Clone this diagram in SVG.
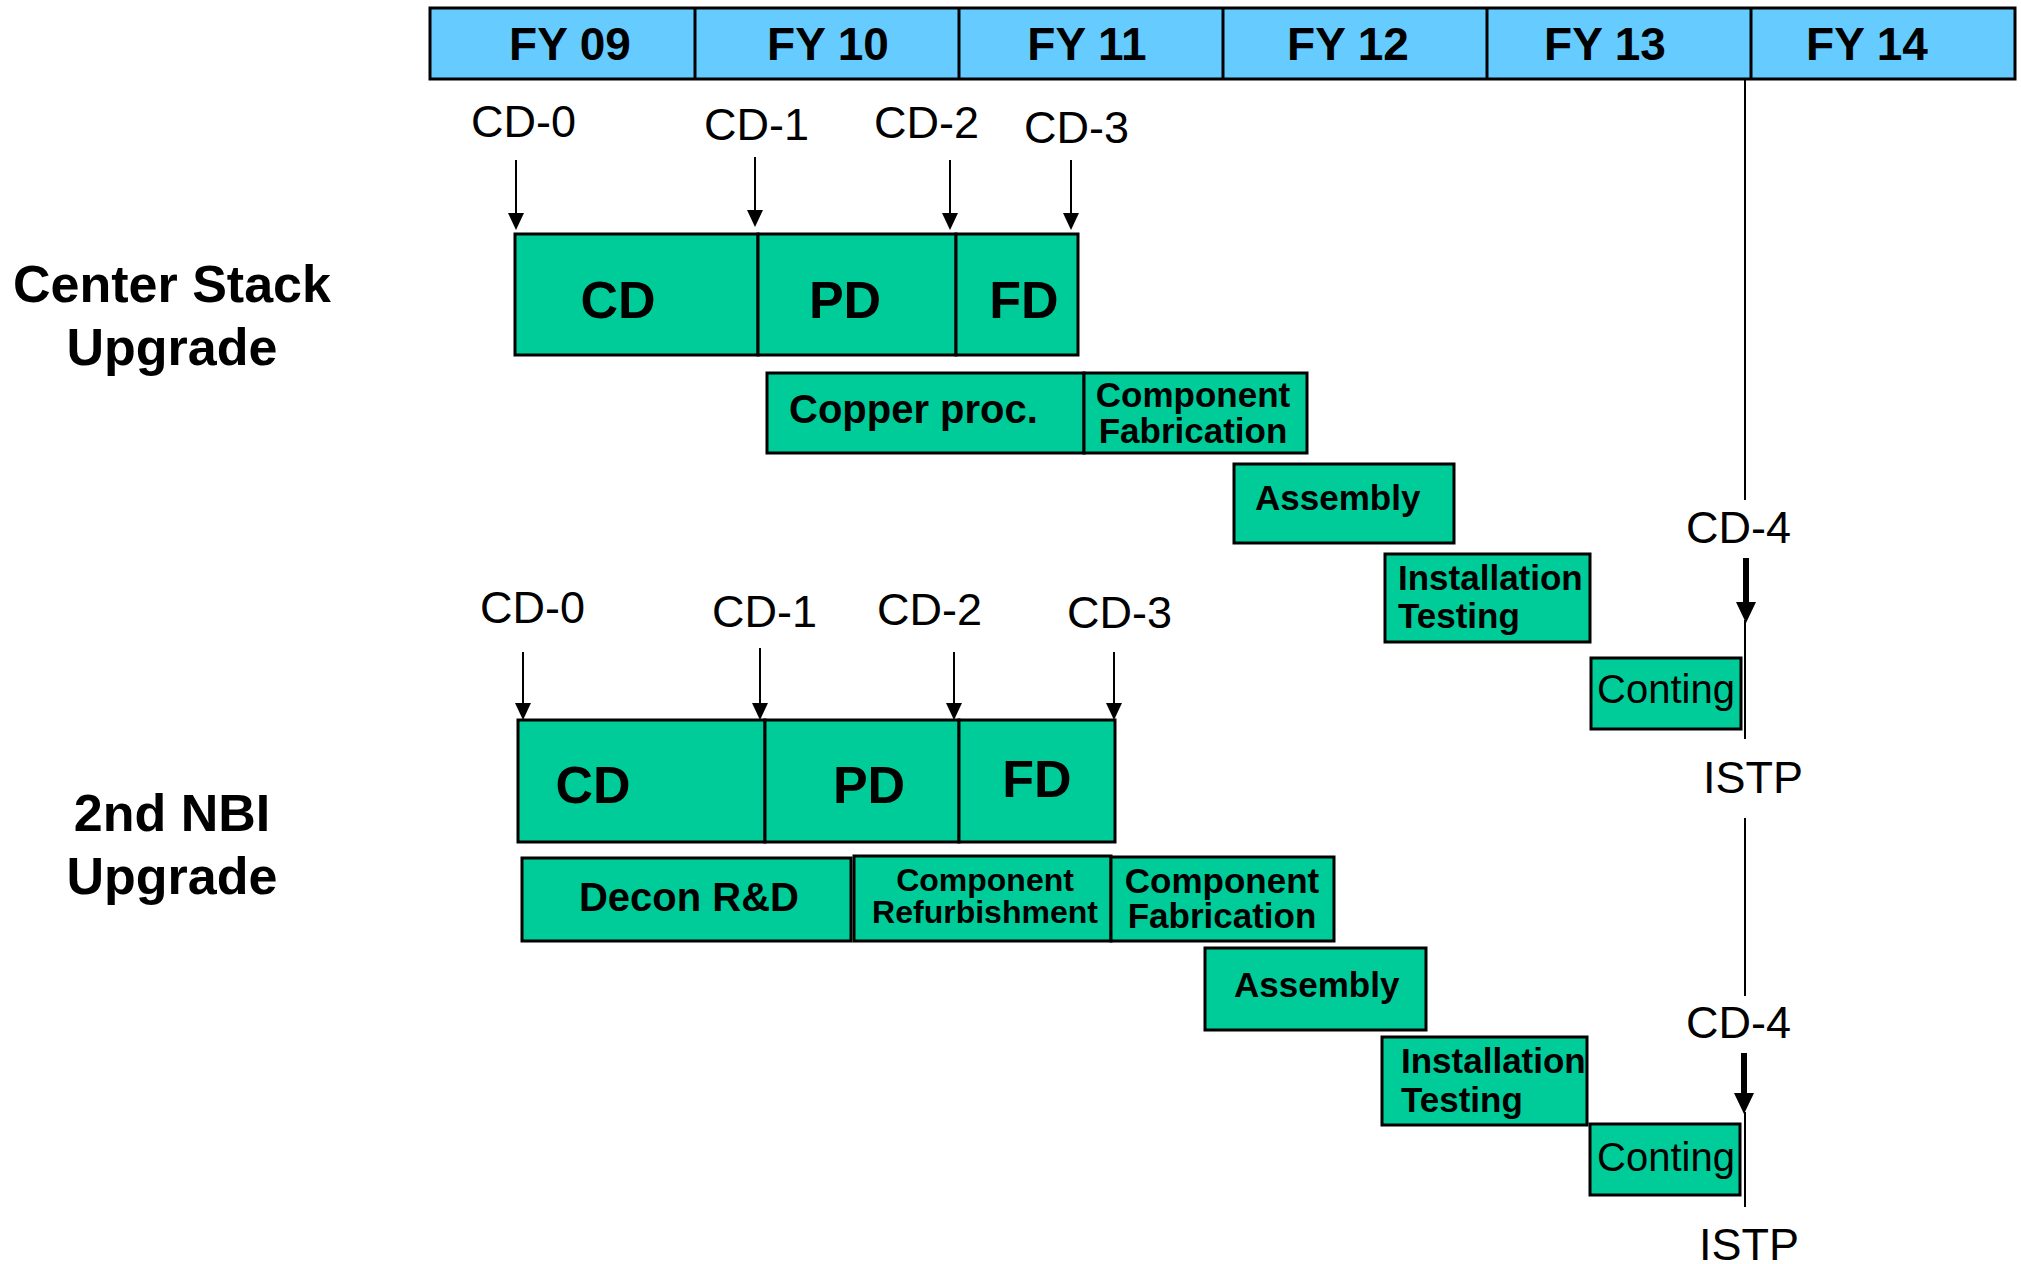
<svg xmlns="http://www.w3.org/2000/svg" width="2021" height="1264" viewBox="0 0 2021 1264">
<style>
.hdr{fill:#66CCFF;stroke:#000;stroke-width:3}
.div{stroke:#000;stroke-width:3}
.fy{font-family:"Liberation Sans",Arial,sans-serif;font-weight:bold;font-size:46px;text-anchor:middle;fill:#000}
.box{fill:#00CC99;stroke:#000;stroke-width:3}
.big{font-family:"Liberation Sans",Arial,sans-serif;font-weight:bold;font-size:52px;text-anchor:middle;fill:#000}
.b40{font-family:"Liberation Sans",Arial,sans-serif;font-weight:bold;font-size:40px;fill:#000}
.b35{font-family:"Liberation Sans",Arial,sans-serif;font-weight:bold;font-size:35px;fill:#000}
.b32{font-family:"Liberation Sans",Arial,sans-serif;font-weight:bold;font-size:32px;fill:#000}
.r40{font-family:"Liberation Sans",Arial,sans-serif;font-size:40px;fill:#000}
.ms{font-family:"Liberation Sans",Arial,sans-serif;font-size:45px;fill:#000}
.lbl{font-family:"Liberation Sans",Arial,sans-serif;font-weight:bold;font-size:52px;text-anchor:middle;fill:#000}
.mid{text-anchor:middle}
.thin{stroke:#000;stroke-width:2;fill:none}
.thick{stroke:#000;stroke-width:6;fill:none}
</style>
<defs>
<marker id="ah" markerUnits="userSpaceOnUse" markerWidth="16" markerHeight="17" refX="8" refY="0" orient="0" viewBox="0 0 16 17">
<path d="M0,0 L16,0 L8,17 z" fill="#000"/>
</marker>
<marker id="ahb" markerUnits="userSpaceOnUse" markerWidth="20" markerHeight="21" refX="10" refY="0" orient="0" viewBox="0 0 20 21">
<path d="M0,0 L20,0 L10,21 z" fill="#000"/>
</marker>
</defs>
<rect width="2021" height="1264" fill="#fff"/>

<g id="timeline">
<rect class="hdr" x="430" y="8" width="1585" height="71"/>
<line class="div" x1="695" y1="8" x2="695" y2="79"/>
<line class="div" x1="959" y1="8" x2="959" y2="79"/>
<line class="div" x1="1223" y1="8" x2="1223" y2="79"/>
<line class="div" x1="1487" y1="8" x2="1487" y2="79"/>
<line class="div" x1="1751" y1="8" x2="1751" y2="79"/>
<text class="fy" x="570" y="60">FY 09</text>
<text class="fy" x="828" y="60">FY 10</text>
<text class="fy" x="1087" y="60">FY 11</text>
<text class="fy" x="1348" y="60">FY 12</text>
<text class="fy" x="1605" y="60">FY 13</text>
<text class="fy" x="1867" y="60">FY 14</text>
</g>

<g id="label-center-stack">
<text class="lbl" x="172" y="302">Center Stack</text>
<text class="lbl" x="172" y="365">Upgrade</text>
</g>
<g id="label-nbi">
<text class="lbl" x="172" y="831">2nd NBI</text>
<text class="lbl" x="172" y="894">Upgrade</text>
</g>

<g id="milestones-1">
<text class="ms" x="471" y="137">CD-0</text>
<text class="ms" x="704" y="140">CD-1</text>
<text class="ms" x="874" y="138">CD-2</text>
<text class="ms" x="1024" y="143">CD-3</text>
<text class="ms" x="1686" y="543">CD-4</text>
<text class="ms" x="1703" y="793">ISTP</text>
</g>
<g id="milestones-2">
<text class="ms" x="480" y="623">CD-0</text>
<text class="ms" x="712" y="627">CD-1</text>
<text class="ms" x="877" y="625">CD-2</text>
<text class="ms" x="1067" y="628">CD-3</text>
<text class="ms" x="1686" y="1038">CD-4</text>
<text class="ms" x="1699" y="1260">ISTP</text>
</g>

<g id="cs-cd"><rect class="box" x="515" y="234" width="243" height="121"/><text class="big" x="618" y="318">CD</text></g>
<g id="cs-pd"><rect class="box" x="758" y="234" width="198" height="121"/><text class="big" x="845" y="318">PD</text></g>
<g id="cs-fd"><rect class="box" x="956" y="234" width="122" height="121"/><text class="big" x="1024" y="318">FD</text></g>
<g id="cs-copper"><rect class="box" x="767" y="373" width="317" height="80"/><text class="b40" x="789" y="423">Copper proc.</text></g>
<g id="cs-fab"><rect class="box" x="1084" y="373" width="223" height="80"/><text class="b35 mid" x="1193" y="407">Component</text><text class="b35 mid" x="1193" y="443">Fabrication</text></g>
<g id="cs-assembly"><rect class="box" x="1234" y="464" width="220" height="79"/><text class="b35" x="1255" y="510">Assembly</text></g>
<g id="cs-install"><rect class="box" x="1385" y="554" width="205" height="88"/><text class="b35" x="1398" y="590">Installation</text><text class="b35" x="1398" y="628">Testing</text></g>
<g id="cs-conting"><rect class="box" x="1591" y="658" width="150" height="71"/><text class="r40" x="1597" y="703">Conting</text></g>

<g id="nbi-cd"><rect class="box" x="518" y="720" width="247" height="122"/><text class="big" x="593" y="803">CD</text></g>
<g id="nbi-pd"><rect class="box" x="765" y="720" width="194" height="122"/><text class="big" x="869" y="803">PD</text></g>
<g id="nbi-fd"><rect class="box" x="959" y="720" width="156" height="122"/><text class="big" x="1037" y="797">FD</text></g>
<g id="nbi-decon"><rect class="box" x="522" y="858" width="329" height="83"/><text class="b40 mid" x="689" y="911">Decon R&amp;D</text></g>
<g id="nbi-refurb"><rect class="box" x="854" y="856" width="257" height="85"/><text class="b32 mid" x="985" y="891">Component</text><text class="b32 mid" x="985" y="923">Refurbishment</text></g>
<g id="nbi-fab"><rect class="box" x="1111" y="857" width="223" height="84"/><text class="b35 mid" x="1222" y="893">Component</text><text class="b35 mid" x="1222" y="928">Fabrication</text></g>
<g id="nbi-assembly"><rect class="box" x="1205" y="948" width="221" height="82"/><text class="b35" x="1234" y="997">Assembly</text></g>
<g id="nbi-install"><rect class="box" x="1382" y="1037" width="205" height="88"/><text class="b35" x="1401" y="1073">Installation</text><text class="b35" x="1401" y="1112">Testing</text></g>
<g id="nbi-conting"><rect class="box" x="1590" y="1124" width="150" height="71"/><text class="r40" x="1597" y="1171">Conting</text></g>

<g id="connectors">
<line class="thin" x1="516" y1="160" x2="516" y2="213" marker-end="url(#ah)"/>
<line class="thin" x1="755" y1="157" x2="755" y2="210" marker-end="url(#ah)"/>
<line class="thin" x1="950" y1="160" x2="950" y2="213" marker-end="url(#ah)"/>
<line class="thin" x1="1071" y1="160" x2="1071" y2="213" marker-end="url(#ah)"/>
<line class="thin" x1="523" y1="652" x2="523" y2="703" marker-end="url(#ah)"/>
<line class="thin" x1="760" y1="648" x2="760" y2="703" marker-end="url(#ah)"/>
<line class="thin" x1="954" y1="652" x2="954" y2="703" marker-end="url(#ah)"/>
<line class="thin" x1="1114" y1="652" x2="1114" y2="703" marker-end="url(#ah)"/>
<line class="thin" x1="1745" y1="79" x2="1745" y2="500"/>
<line class="thick" x1="1746" y1="558" x2="1746" y2="602" marker-end="url(#ahb)"/>
<line class="thin" x1="1745" y1="620" x2="1745" y2="739"/>
<line class="thin" x1="1745" y1="818" x2="1745" y2="996"/>
<line class="thick" x1="1744" y1="1053" x2="1744" y2="1093" marker-end="url(#ahb)"/>
<line class="thin" x1="1745" y1="1112" x2="1745" y2="1207"/>
</g>
</svg>
